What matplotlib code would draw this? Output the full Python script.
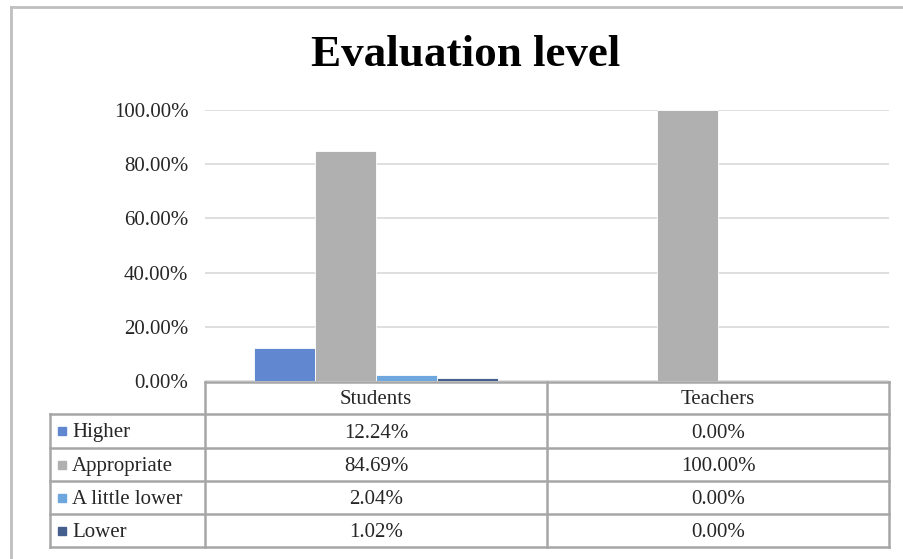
import matplotlib
matplotlib.use('Agg')
import matplotlib.pyplot as plt
from matplotlib.lines import Line2D
from matplotlib.patches import Rectangle
from matplotlib.ticker import PercentFormatter

plt.rcParams['font.family'] = ['Liberation Serif', 'DejaVu Serif']

groups = ['Students', 'Teachers']
levels = ['Higher', 'Appropriate', 'A little lower', 'Lower']
values = {
    'Higher': [12.24, 0.00],
    'Appropriate': [84.69, 100.00],
    'A little lower': [2.04, 0.00],
    'Lower': [1.02, 0.00],
}
colors = ['#6087CF', '#B0B0B0', '#6DA7DD', '#445F8E']
yticks = [0, 20, 40, 60, 80, 100]

W, H = 904, 559
fs = 15
fig = plt.figure(figsize=(W / 100, H / 100), dpi=100)
fig.patch.set_facecolor('white')

def fx(px):
    return px / W

def fy(py):
    return 1 - py / H

# plot area
ax = fig.add_axes([fx(205), fy(381), fx(889) - fx(205), fy(110) - fy(381)])
bw = 0.178
for i, lvl in enumerate(levels):
    xs = [g + (i - 1.5) * bw for g in range(len(groups))]
    ax.bar(xs, values[lvl], width=bw, color=colors[i],
           edgecolor='white', linewidth=0.6, zorder=3)

ax.set_xlim(-0.5, len(groups) - 0.5)
ax.set_ylim(0, 100)
ax.set_yticks(yticks)
ax.yaxis.set_major_formatter(PercentFormatter(decimals=2))
ax.tick_params(axis='y', length=0, pad=12, labelsize=fs, labelcolor='#262626')
ax.set_xticks([])
ax.grid(axis='y', color='#D9D9D9', linewidth=1.2, zorder=0)
for s in ax.spines.values():
    s.set_visible(False)

fig.text(0.515, fy(55), 'Evaluation level', ha='center', va='center',
         fontsize=32.5, fontweight='bold', color='#000000')

# data table under the bars
tc = '#A6A6A6'
lw = 1.8
col_x = [205, 547, 889]
row_y = [382, 414, 448, 481, 514, 547]
dy = 2  # nudge text down inside the cells
lines = [Line2D([fx(205), fx(889)], [fy(382), fy(382)])]
for y in row_y[1:]:
    lines.append(Line2D([fx(50), fx(889)], [fy(y), fy(y)]))
for x in col_x:
    lines.append(Line2D([fx(x), fx(x)], [fy(382), fy(547)]))
lines.append(Line2D([fx(50), fx(50)], [fy(414), fy(547)]))
for ln in lines:
    ln.set_color(tc)
    ln.set_linewidth(lw)
    fig.add_artist(ln)

for j, g in enumerate(groups):
    cx = (col_x[j] + col_x[j + 1]) / 2
    fig.text(fx(cx), fy((row_y[0] + row_y[1]) / 2 + dy), g, ha='center',
             va='center', fontsize=fs, color='#262626')
    for i, lvl in enumerate(levels):
        cy = (row_y[i + 1] + row_y[i + 2]) / 2
        fig.text(fx(cx), fy(cy + dy), f'{values[lvl][j]:.2f}%', ha='center',
                 va='center', fontsize=fs, color='#262626')

for i, lvl in enumerate(levels):
    cy = (row_y[i + 1] + row_y[i + 2]) / 2
    fig.add_artist(Rectangle((fx(58), fy(cy + 4)), fx(8), fy(0) - fy(8),
                             color=colors[i], transform=fig.transFigure))
    fig.text(fx(72), fy(cy + dy), lvl, ha='left', va='center', fontsize=fs,
             color='#262626')

# outer chart frame
frame = [Line2D([fx(11), fx(904)], [fy(7), fy(7)]),
         Line2D([fx(11), fx(11)], [fy(7), fy(559)])]
for ln in frame:
    ln.set_color('#BFBFBF')
    ln.set_linewidth(2)
    fig.add_artist(ln)

fig.savefig('out.png', dpi=100)
